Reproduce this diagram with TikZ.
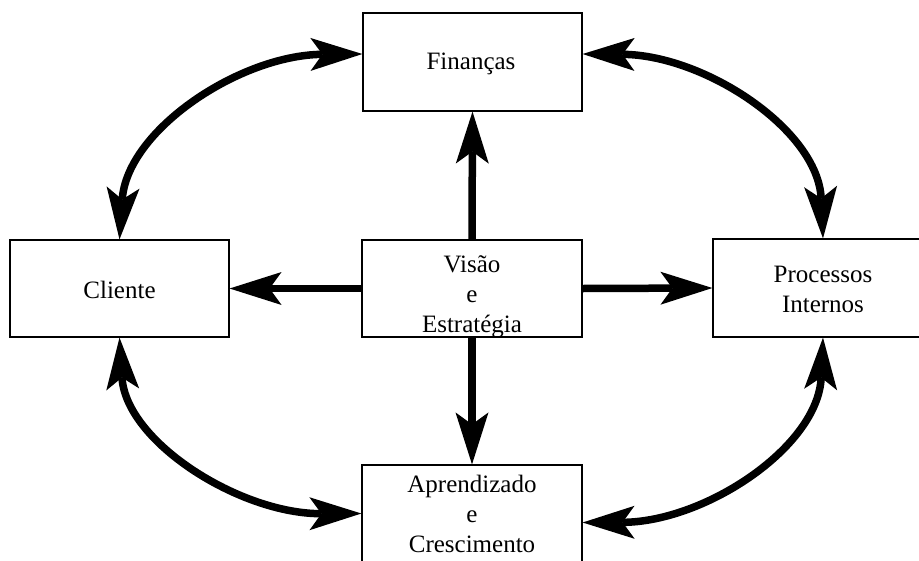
\documentclass[tikz,border=0pt]{standalone}
\usepackage{fontspec}
\setmainfont{Liberation Serif}
\usetikzlibrary{arrows.meta,calc}
\tikzset{
  box/.style={draw, line width=1.2pt, minimum width=219pt, minimum height=97pt, inner sep=0pt},
  label text/.style={inner sep=0pt, align=center, font=\fontsize{25}{30}\selectfont},
  head/.tip={Stealth[length=52pt, width=33pt, inset=12pt, line width=0pt]},
  arr/.style={line width=7.5pt, -head},
  dbl/.style={line width=7.5pt, head-head},
}
\begin{document}
\begin{tikzpicture}[x=1pt, y=-1pt]
  \fill[white] (0,0) rectangle (919,560);
  \useasboundingbox (0,0) rectangle (919,560);
  \clip (0,0) rectangle (919,560);

  % the five boxes
  \node[box, minimum height=98pt] (fin) at (472.5,62) {};
  \node[box] (cli) at (119.5,288.5) {};
  \node[box, minimum width=220pt] (vis) at (472,288.5) {};
  \node[box, minimum width=260pt, minimum height=98pt] (pro) at (843,288) {};
  \node[box, minimum width=220pt] (apr) at (472,513.5) {};

  % box texts
  \node[label text] (finT) at (471,64.2) {Finanças};
  \node[label text] (cliT) at (119.5,289.5) {Cliente};
  \node[label text] (visT) at (472,296.3) {Visão\\e\\Estratégia};
  \node[label text] (proT) at (823,289.3) {Processos\\Internos};
  \node[label text] (aprT) at (472,513.5) {Aprendizado\\e\\Crescimento};

  % straight arrows from the centre box
  \draw[arr] (vis.north) -- (fin.south);
  \draw[arr] (vis.west) -- (cli.east);
  \draw[arr] (vis.east) -- (pro.west);
  \draw[arr] (vis.south) -- (apr.north);

  % curved double arrows round the outside
  \draw[dbl] (cli.north) .. controls (127,130) and (240,55) .. ($(fin.west)+(0,-8)$);
  \draw[dbl] ($(fin.east)+(0,-8)$) .. controls (705,55) and (818,130) .. ($(pro.north)+(-20,0)$);
  \draw[dbl] (cli.south) .. controls (126,442) and (240,514) .. (apr.west);
  \draw[dbl] ($(pro.south)+(-20,0)$) .. controls (818,447) and (705,522) .. ($(apr.east)+(0,9)$);
\end{tikzpicture}
\end{document}
